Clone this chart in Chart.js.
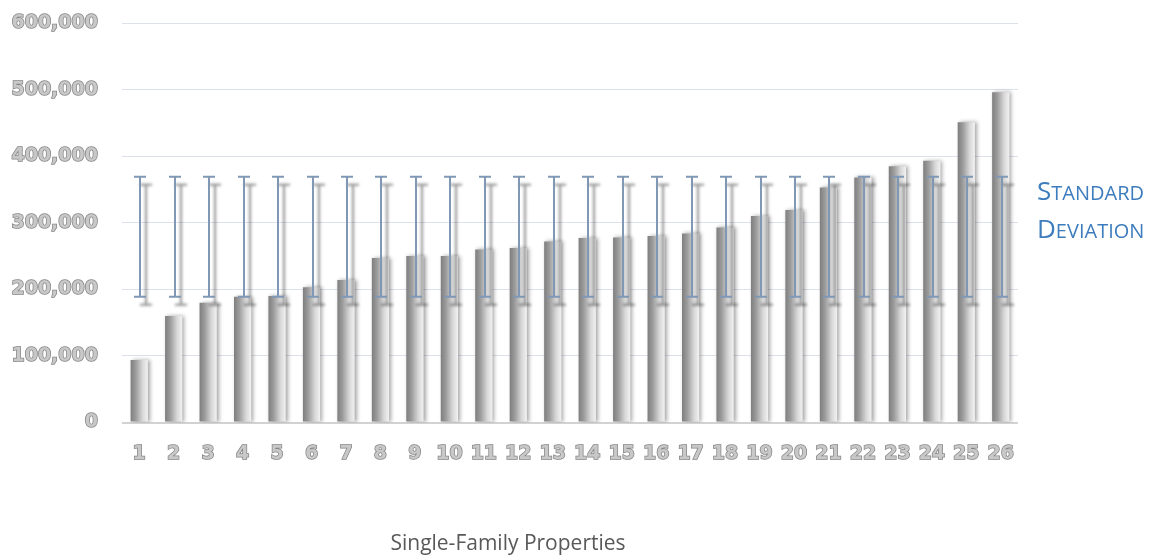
<!DOCTYPE html>
<html>
<head>
<meta charset="utf-8">
<script src="https://cdn.jsdelivr.net/npm/chart.js@4"></script>
<style>
html, body { margin: 0; padding: 0; background: #fff; }
</style>
</head>
<body>
<canvas id="myChart" width="1151" height="556"></canvas>
<script>
// chart data
var categories = ['1', '2', '3', '4', '5', '6', '7', '8', '9', '10', '11', '12', '13',
                  '14', '15', '16', '17', '18', '19', '20', '21', '22', '23', '24', '25', '26'];
var prices = [94000, 160000, 180000, 189000, 190000, 203000, 214000, 247000, 250000, 250000,
              260000, 262000, 272000, 277000, 278000, 280000, 284000, 293000, 310000, 319000,
              353000, 368000, 385000, 393000, 451000, 496000];
var stdMean = 279000;
var stdDev = 90000;
var yTicks = [0, 100000, 200000, 300000, 400000, 500000, 600000];
var legendLines = ['Standard', 'Deviation'];
var xTitle = 'Single-Family Properties';

// gradient + soft shadow on the bars
var barLook = {
    id: 'barLook',
    beforeDatasetsDraw: function (chart) {
        var ctx = chart.ctx;
        chart.getDatasetMeta(0).data.forEach(function (el) {
            var left = el.x - el.width / 2;
            var g = ctx.createLinearGradient(left, 0, left + el.width, 0);
            g.addColorStop(0, '#7e7e7e');
            g.addColorStop(0.3, '#9c9c9c');
            g.addColorStop(0.7, '#d8d8d8');
            g.addColorStop(1, '#f2f2f2');
            el.options = Object.assign({}, el.options, { backgroundColor: g });
        });
        ctx.save();
        ctx.shadowColor = 'rgba(0,0,0,0.35)';
        ctx.shadowBlur = 4;
        ctx.shadowOffsetX = 2;
        ctx.shadowOffsetY = 0;
    },
    afterDatasetsDraw: function (chart) {
        chart.ctx.restore();
    }
};

// standard deviation bars, same for each property
var stdBars = {
    id: 'stdBars',
    afterDatasetsDraw: function (chart) {
        var ctx = chart.ctx;
        var x = chart.scales.x, y = chart.scales.y;
        var top = y.getPixelForValue(stdMean + stdDev);
        var bot = y.getPixelForValue(stdMean - stdDev);
        ctx.save();
        ctx.strokeStyle = '#8097b5';
        ctx.lineWidth = 2;
        ctx.shadowColor = 'rgba(0,0,0,0.45)';
        ctx.shadowBlur = 3;
        ctx.shadowOffsetX = 6;
        ctx.shadowOffsetY = 8;
        categories.forEach(function (c, i) {
            var px = Math.round(x.getPixelForValue(i)) + 1;
            ctx.beginPath();
            ctx.moveTo(px, top); ctx.lineTo(px, bot);
            ctx.moveTo(px - 6, top); ctx.lineTo(px + 6, top);
            ctx.moveTo(px - 6, bot); ctx.lineTo(px + 6, bot);
            ctx.stroke();
        });
        ctx.restore();
    }
};

// small caps drawn by hand: first letter big, rest smaller capitals
function smallCaps(ctx, text, x, y) {
    ctx.font = '26px "Open Sans"';
    ctx.fillText(text[0], x, y);
    var w = ctx.measureText(text[0]).width;
    ctx.font = '20px "Open Sans"';
    ctx.fillText(text.slice(1).toUpperCase(), x + w, y);
}

// legend text and axis title
var texts = {
    id: 'texts',
    afterDraw: function (chart) {
        var ctx = chart.ctx;
        ctx.save();
        ctx.fillStyle = '#3e7dbd';
        ctx.textBaseline = 'alphabetic';
        ctx.textAlign = 'left';
        smallCaps(ctx, legendLines[0], 1037, 200);
        smallCaps(ctx, legendLines[1], 1037, 238);
        ctx.fillStyle = '#595959';
        ctx.textAlign = 'center';
        ctx.textBaseline = 'middle';
        ctx.font = '21px "Open Sans"';
        ctx.fillText(xTitle, 508, 544);
        ctx.restore();
    }
};

var tickFont = { family: 'DejaVu Sans', size: 19, weight: 'bold' };

var ctx = document.getElementById('myChart').getContext('2d');
var chart = new Chart(ctx, {
    type: 'bar',
    data: {
        labels: categories,
        datasets: [{
            label: 'Price',
            data: prices,
            backgroundColor: '#a6a6a6',
            barPercentage: 0.5,
            categoryPercentage: 1.0
        }]
    },
    options: {
        responsive: false,
        animation: false,
        layout: {
            padding: { left: 0, right: 133, top: 23, bottom: 0 }
        },
        plugins: {
            legend: { display: false },
            tooltip: { enabled: false }
        },
        scales: {
            x: {
                grid: { display: false },
                border: { display: false },
                afterFit: function (s) { s.height = 133.5; },
                ticks: {
                    color: '#c8c8c8',
                    textStrokeColor: '#858585',
                    textStrokeWidth: 1.5,
                    font: tickFont,
                    padding: 12,
                    maxRotation: 0,
                    autoSkip: false
                }
            },
            y: {
                min: 0,
                max: 600000,
                afterBuildTicks: function (axis) {
                    axis.ticks = yTicks.map(function (v) { return { value: v }; });
                },
                afterFit: function (s) { s.width = 122; s.paddingTop = 0; s.paddingBottom = 0; },
                grid: {
                    drawTicks: false,
                    color: function (c) { return c.tick && c.tick.value === 0 ? '#d2d2d2' : '#dde1ea'; },
                    lineWidth: function (c) { return c.tick && c.tick.value === 0 ? 2 : 1; }
                },
                border: { display: false },
                ticks: {
                    color: '#c8c8c8',
                    textStrokeColor: '#858585',
                    textStrokeWidth: 1.5,
                    font: tickFont,
                    padding: 24,
                    callback: function (v) { return v.toLocaleString('en-US'); }
                }
            }
        }
    },
    plugins: [barLook, stdBars, texts]
});
</script>
</body>
</html>
